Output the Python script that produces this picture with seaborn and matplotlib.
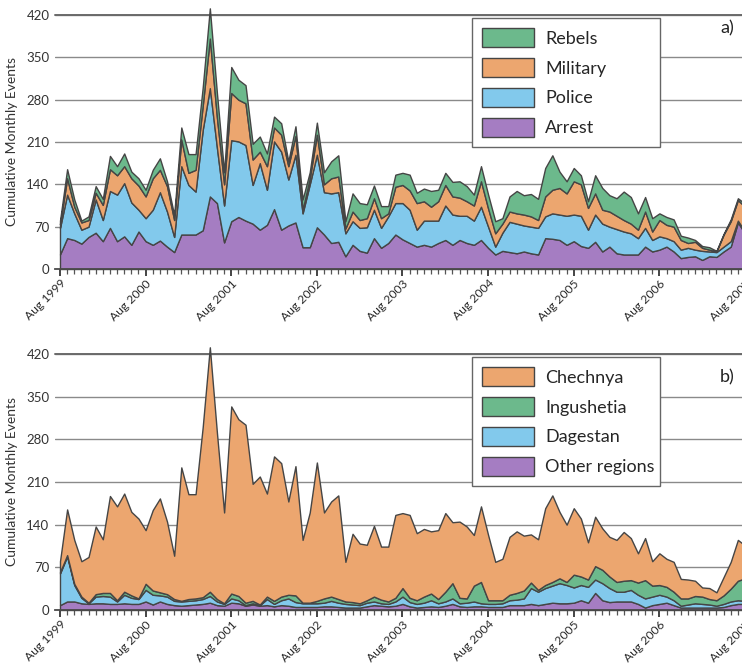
import numpy as np
import matplotlib
matplotlib.use('Agg')
import matplotlib.pyplot as plt
import seaborn as sns

# monthly counts, Aug 1999 .. Aug 2007 (97 months)
months = np.arange(97)
year_labels = ['Aug 1999', 'Aug 2000', 'Aug 2001', 'Aug 2002', 'Aug 2003',
               'Aug 2004', 'Aug 2005', 'Aug 2006', 'Aug 2007']

# panel a) by type of event
arrest = [24, 51, 48, 42, 53, 60, 46, 68, 46, 54,
          40, 62, 46, 40, 47, 37, 28, 57, 57, 57,
          64, 120, 109, 44, 79, 86, 80, 75, 65, 73,
          99, 65, 72, 77, 36, 36, 69, 57, 43, 45,
          21, 40, 30, 27, 51, 35, 43, 57, 49, 43,
          37, 40, 37, 43, 48, 40, 48, 43, 40, 48,
          35, 24, 30, 28, 26, 29, 26, 24, 51, 50,
          48, 40, 46, 38, 35, 45, 29, 37, 26, 24,
          24, 24, 37, 29, 32, 37, 29, 18, 20, 21,
          15, 21, 20, 29, 37, 77, 59]
police = [44, 72, 44, 23, 17, 55, 35, 61, 77, 88,
          70, 36, 38, 58, 80, 58, 25, 113, 82, 71,
          166, 179, 91, 61, 134, 125, 125, 64, 110, 58,
          112, 129, 76, 112, 56, 104, 120, 70, 82, 82,
          38, 39, 38, 42, 47, 33, 44, 52, 60, 55,
          28, 40, 43, 37, 57, 50, 40, 45, 40, 55,
          35, 13, 30, 50, 49, 43, 44, 44, 36, 42,
          42, 48, 44, 50, 30, 45, 46, 33, 40, 38,
          35, 27, 31, 19, 22, 14, 17, 14, 15, 11,
          15, 8, 8, 8, 9, 3, 3]
military = [6, 27, 11, 12, 11, 11, 25, 36, 32, 28,
            40, 40, 36, 52, 37, 42, 28, 44, 20, 36,
            40, 82, 50, 35, 78, 69, 69, 42, 19, 39,
            23, 28, 22, 31, 6, 10, 33, 13, 25, 26,
            8, 16, 13, 15, 19, 16, 5, 27, 30, 32,
            44, 32, 23, 32, 34, 30, 30, 24, 25, 42,
            30, 22, 15, 17, 17, 18, 17, 13, 33, 39,
            44, 37, 55, 52, 36, 35, 23, 25, 22, 19,
            16, 14, 27, 14, 27, 22, 24, 16, 8, 13,
            5, 3, 1, 20, 33, 34, 41]
rebels = [6, 15, 12, 3, 6, 11, 10, 22, 15, 21,
          11, 12, 11, 14, 19, 8, 8, 20, 31, 26,
          30, 50, 40, 20, 43, 33, 30, 26, 25, 21,
          18, 19, 8, 16, 17, 10, 20, 20, 28, 35,
          12, 30, 28, 23, 21, 20, 12, 20, 20, 26,
          17, 21, 26, 19, 20, 24, 27, 25, 18, 25,
          23, 20, 9, 25, 37, 32, 37, 35, 47, 57,
          27, 20, 22, 15, 11, 30, 36, 27, 29, 47,
          44, 27, 24, 22, 11, 13, 12, 7, 9, 3,
          3, 4, 1, 1, 3, 3, 5]

# panel b) by region
other = [8, 14, 14, 11, 10, 11, 11, 10, 10, 11,
         10, 10, 14, 9, 14, 10, 8, 7, 8, 9,
         10, 12, 8, 7, 12, 11, 7, 9, 7, 8,
         6, 8, 7, 5, 5, 5, 5, 6, 6, 5,
         4, 4, 4, 6, 8, 7, 6, 7, 10, 6,
         4, 5, 6, 5, 7, 10, 6, 5, 6, 6,
         5, 5, 5, 8, 8, 8, 10, 8, 10, 12,
         11, 11, 12, 16, 12, 28, 16, 13, 14, 14,
         14, 10, 4, 8, 10, 12, 8, 4, 4, 4,
         4, 4, 4, 5, 8, 10, 10]
dagestan = [52, 74, 27, 9, 1, 11, 12, 12, 4, 14,
            10, 8, 19, 16, 10, 12, 7, 7, 7, 7,
            8, 11, 6, 3, 7, 5, 1, 2, 1, 10,
            4, 8, 12, 8, 6, 6, 6, 6, 9, 7,
            6, 5, 4, 6, 6, 4, 4, 7, 12, 7,
            6, 7, 10, 6, 7, 9, 5, 7, 8, 5,
            5, 5, 6, 8, 9, 11, 26, 22, 26, 28,
            33, 30, 25, 25, 26, 22, 28, 23, 16, 16,
            19, 15, 15, 14, 15, 10, 8, 3, 5, 7,
            6, 5, 3, 5, 6, 6, 5]
ingushetia = [2, 2, 2, 2, 1, 4, 5, 6, 2, 5,
              4, 1, 10, 7, 5, 4, 3, 1, 3, 3,
              3, 7, 4, 1, 8, 7, 4, 4, 1, 4,
              5, 6, 6, 11, 1, 1, 4, 7, 7, 6,
              4, 4, 3, 4, 8, 6, 4, 6, 14, 7,
              6, 10, 11, 7, 16, 25, 9, 7, 26, 35,
              6, 6, 5, 9, 11, 13, 9, 3, 5, 6,
              8, 5, 21, 14, 12, 22, 22, 19, 16, 18,
              16, 20, 30, 18, 16, 16, 14, 12, 10, 12,
              12, 9, 9, 14, 21, 32, 37]
chechnya = [18, 75, 72, 58, 75, 111, 88, 159, 154, 161,
            137, 131, 88, 132, 154, 119, 71, 219, 172, 171,
            279, 401, 272, 149, 307, 290, 292, 192, 210, 169,
            237, 219, 153, 212, 103, 148, 227, 141, 156, 170,
            65, 112, 98, 91, 116, 87, 90, 136, 123, 136,
            110, 111, 102, 113, 129, 100, 125, 118, 83, 124,
            107, 63, 68, 95, 101, 90, 79, 83, 126, 142,
            109, 94, 109, 95, 61, 81, 68, 65, 69, 80,
            69, 48, 69, 40, 52, 46, 49, 32, 31, 25,
            15, 18, 13, 30, 44, 67, 54]

GREEN = '#6cb98c'
ORANGE = '#eca66f'
BLUE = '#82c9ec'
PURPLE = '#a57dc2'
EDGE = '#454545'

sns.set_theme(style='white')
plt.rcParams['font.family'] = ['Lato', 'DejaVu Sans']

W, H = 742, 664
fig = plt.figure(figsize=(W / 100, H / 100), dpi=100)
ax_a = fig.add_axes([55 / W, (H - 269) / H, 690 / W, 254 / H])
ax_b = fig.add_axes([55 / W, (H - 610) / H, 690 / W, 256 / H])


def style_panel(ax, series, colors, names, tag, tag_y):
    polys = ax.stackplot(months, *series, colors=colors, edgecolor=EDGE,
                         linewidth=1.0, zorder=2)
    for p in polys:
        p.set_clip_on(False)
    ax.set_xlim(-0.7, 96)
    ax.set_ylim(0, 420)
    ax.set_yticks(range(0, 421, 70))
    ax.yaxis.grid(True, color='#8a8a8a', linewidth=1.0)
    ax.set_axisbelow(True)
    for s in ['left', 'right', 'top']:
        ax.spines[s].set_visible(False)
    ax.spines['bottom'].set_color('#4a4a4a')
    ax.spines['bottom'].set_linewidth(1.3)
    ax.spines['bottom'].set_zorder(3)
    ax.axhline(420, color='#6a6a6a', lw=1.4, zorder=1, clip_on=False)
    ax.tick_params(axis='y', length=0, pad=4, labelsize=9.5, labelcolor='#333333')
    ax.set_xticks(range(0, 97, 12))
    ax.set_xticks(months, minor=True)
    ax.set_xticklabels(year_labels, rotation=45, ha='right',
                       rotation_mode='anchor', fontsize=8.7, color='#2a2a2a')
    ax.tick_params(axis='x', which='major', direction='out', length=5.2,
                   width=1.4, color='#444444', pad=1, bottom=True)
    ax.tick_params(axis='x', which='minor', direction='out', length=3.8,
                   width=0.9, color='#555555', bottom=True)
    ax.set_ylabel('Cumulative Monthly Events', fontsize=10, color='#333333')
    ax.yaxis.set_label_coords(-0.054, 0.5)
    handles = polys[::-1]
    leg = ax.legend(handles, names, loc='upper left',
                    bbox_to_anchor=(0.604, 0.0, 0.2725, 0.988), mode='expand',
                    borderaxespad=0, fontsize=13, frameon=True, fancybox=False,
                    framealpha=1, edgecolor='#666666', handlelength=2.9,
                    handleheight=1.25, labelspacing=0.6, borderpad=0.55,
                    handletextpad=0.6)
    leg.get_frame().set_linewidth(1.0)
    leg.set_zorder(5)
    ax.text(0.974, tag_y, tag, transform=ax.transAxes, fontsize=13,
            ha='center', va='center', color='#222222')


style_panel(ax_a, [arrest, police, military, rebels],
            [PURPLE, BLUE, ORANGE, GREEN],
            ['Rebels', 'Military', 'Police', 'Arrest'], 'a)', 0.949)
style_panel(ax_b, [other, dagestan, ingushetia, chechnya],
            [PURPLE, BLUE, GREEN, ORANGE],
            ['Chechnya', 'Ingushetia', 'Dagestan', 'Other regions'], 'b)', 0.91)

fig.savefig('out.png', dpi=100)
